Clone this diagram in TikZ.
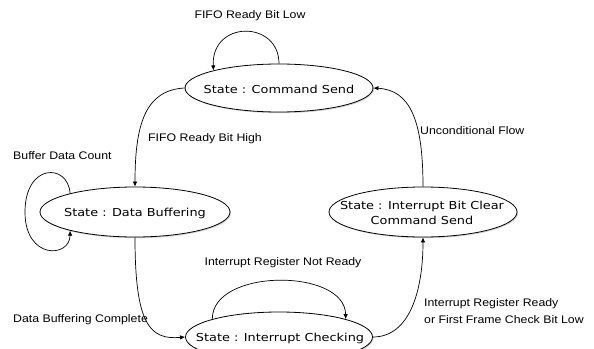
\documentclass[tikz,border=0pt]{standalone}
\usepackage{fontspec}
\usetikzlibrary{arrows.meta,shapes.geometric,shadows}
\newfontfamily\statefont[FakeStretch=1.17]{DejaVu Sans}
\newfontfamily\labelfont[FakeStretch=1.12]{Liberation Sans}
\begin{document}
\begin{tikzpicture}[x=1pt,y=-1pt,
  statebox/.style={ellipse,draw=black,line width=0.8pt,fill=white,inner sep=0pt,
    drop shadow={shadow xshift=1pt,shadow yshift=-1.2pt,opacity=0.35}},
  statetext/.style={inner sep=0pt,align=center,font=\statefont\fontsize{11}{15}\selectfont},
  lbl/.style={inner sep=0pt,align=left,font=\labelfont\fontsize{11}{16.5}\selectfont},
  conn/.style={line width=0.7pt,-{Latex[length=5pt,width=4.5pt]}}]
\path[use as bounding box] (0,0) rectangle (594,348);
\clip (0,0) rectangle (594,348);
% states
\node[statebox,minimum width=188pt,minimum height=48pt] (cs) at (279,88) {};
\node[statetext] (cst) at (279,89) {State : Command Send};
\node[statebox,minimum width=190pt,minimum height=50pt] (db) at (135,212) {};
\node[statetext] (dbt) at (135,213) {State : Data Buffering};
\node[statebox,minimum width=188pt,minimum height=50pt] (ibc) at (423,212) {};
\node[statetext] (ibct) at (422,213) {State : Interrupt Bit Clear\\Command Send};
\node[statebox,minimum width=187pt,minimum height=50pt] (ic) at (279,337) {};
\node[statetext] (ict) at (280,338) {State : Interrupt Checking};
% connectors
\draw[conn] (cs.north) .. controls (279,20) and (211,20) .. (cs.165);
\draw[conn] (cs.west) .. controls (145,90) and (135,125) .. (db.north);
\draw[conn] (db.164) .. controls (68,163) and (25,163) .. (25,212)
            .. controls (25,260) and (70,258) .. (db.196);
\draw[conn] (db.south) .. controls (135,325) and (150,340) .. (ic.west);
\draw[conn] (ic.165) .. controls (212,268) and (345,268) .. (ic.15);
\draw[conn] (ic.east) .. controls (410,337) and (423,290) .. (ibc.south);
\draw[conn] (ibc.north) .. controls (423,120) and (410,90) .. (cs.east);
% labels
\node[lbl] (l1) at (250,16) {FIFO Ready Bit Low};
\node[lbl,anchor=west] (l2) at (148,139) {FIFO Ready Bit High};
\node[lbl,anchor=west] (l3) at (13,156) {Buffer Data Count};
\node[lbl,anchor=west] (l4) at (420,131) {Unconditional Flow};
\node[lbl] (l5) at (283,263) {Interrupt Register Not Ready};
\node[lbl,anchor=west] (l6) at (13,320) {Data Buffering Complete};
\node[lbl,anchor=west] (l7) at (424,311) {Interrupt Register Ready\\or First Frame Check Bit Low};
\end{tikzpicture}
\end{document}
